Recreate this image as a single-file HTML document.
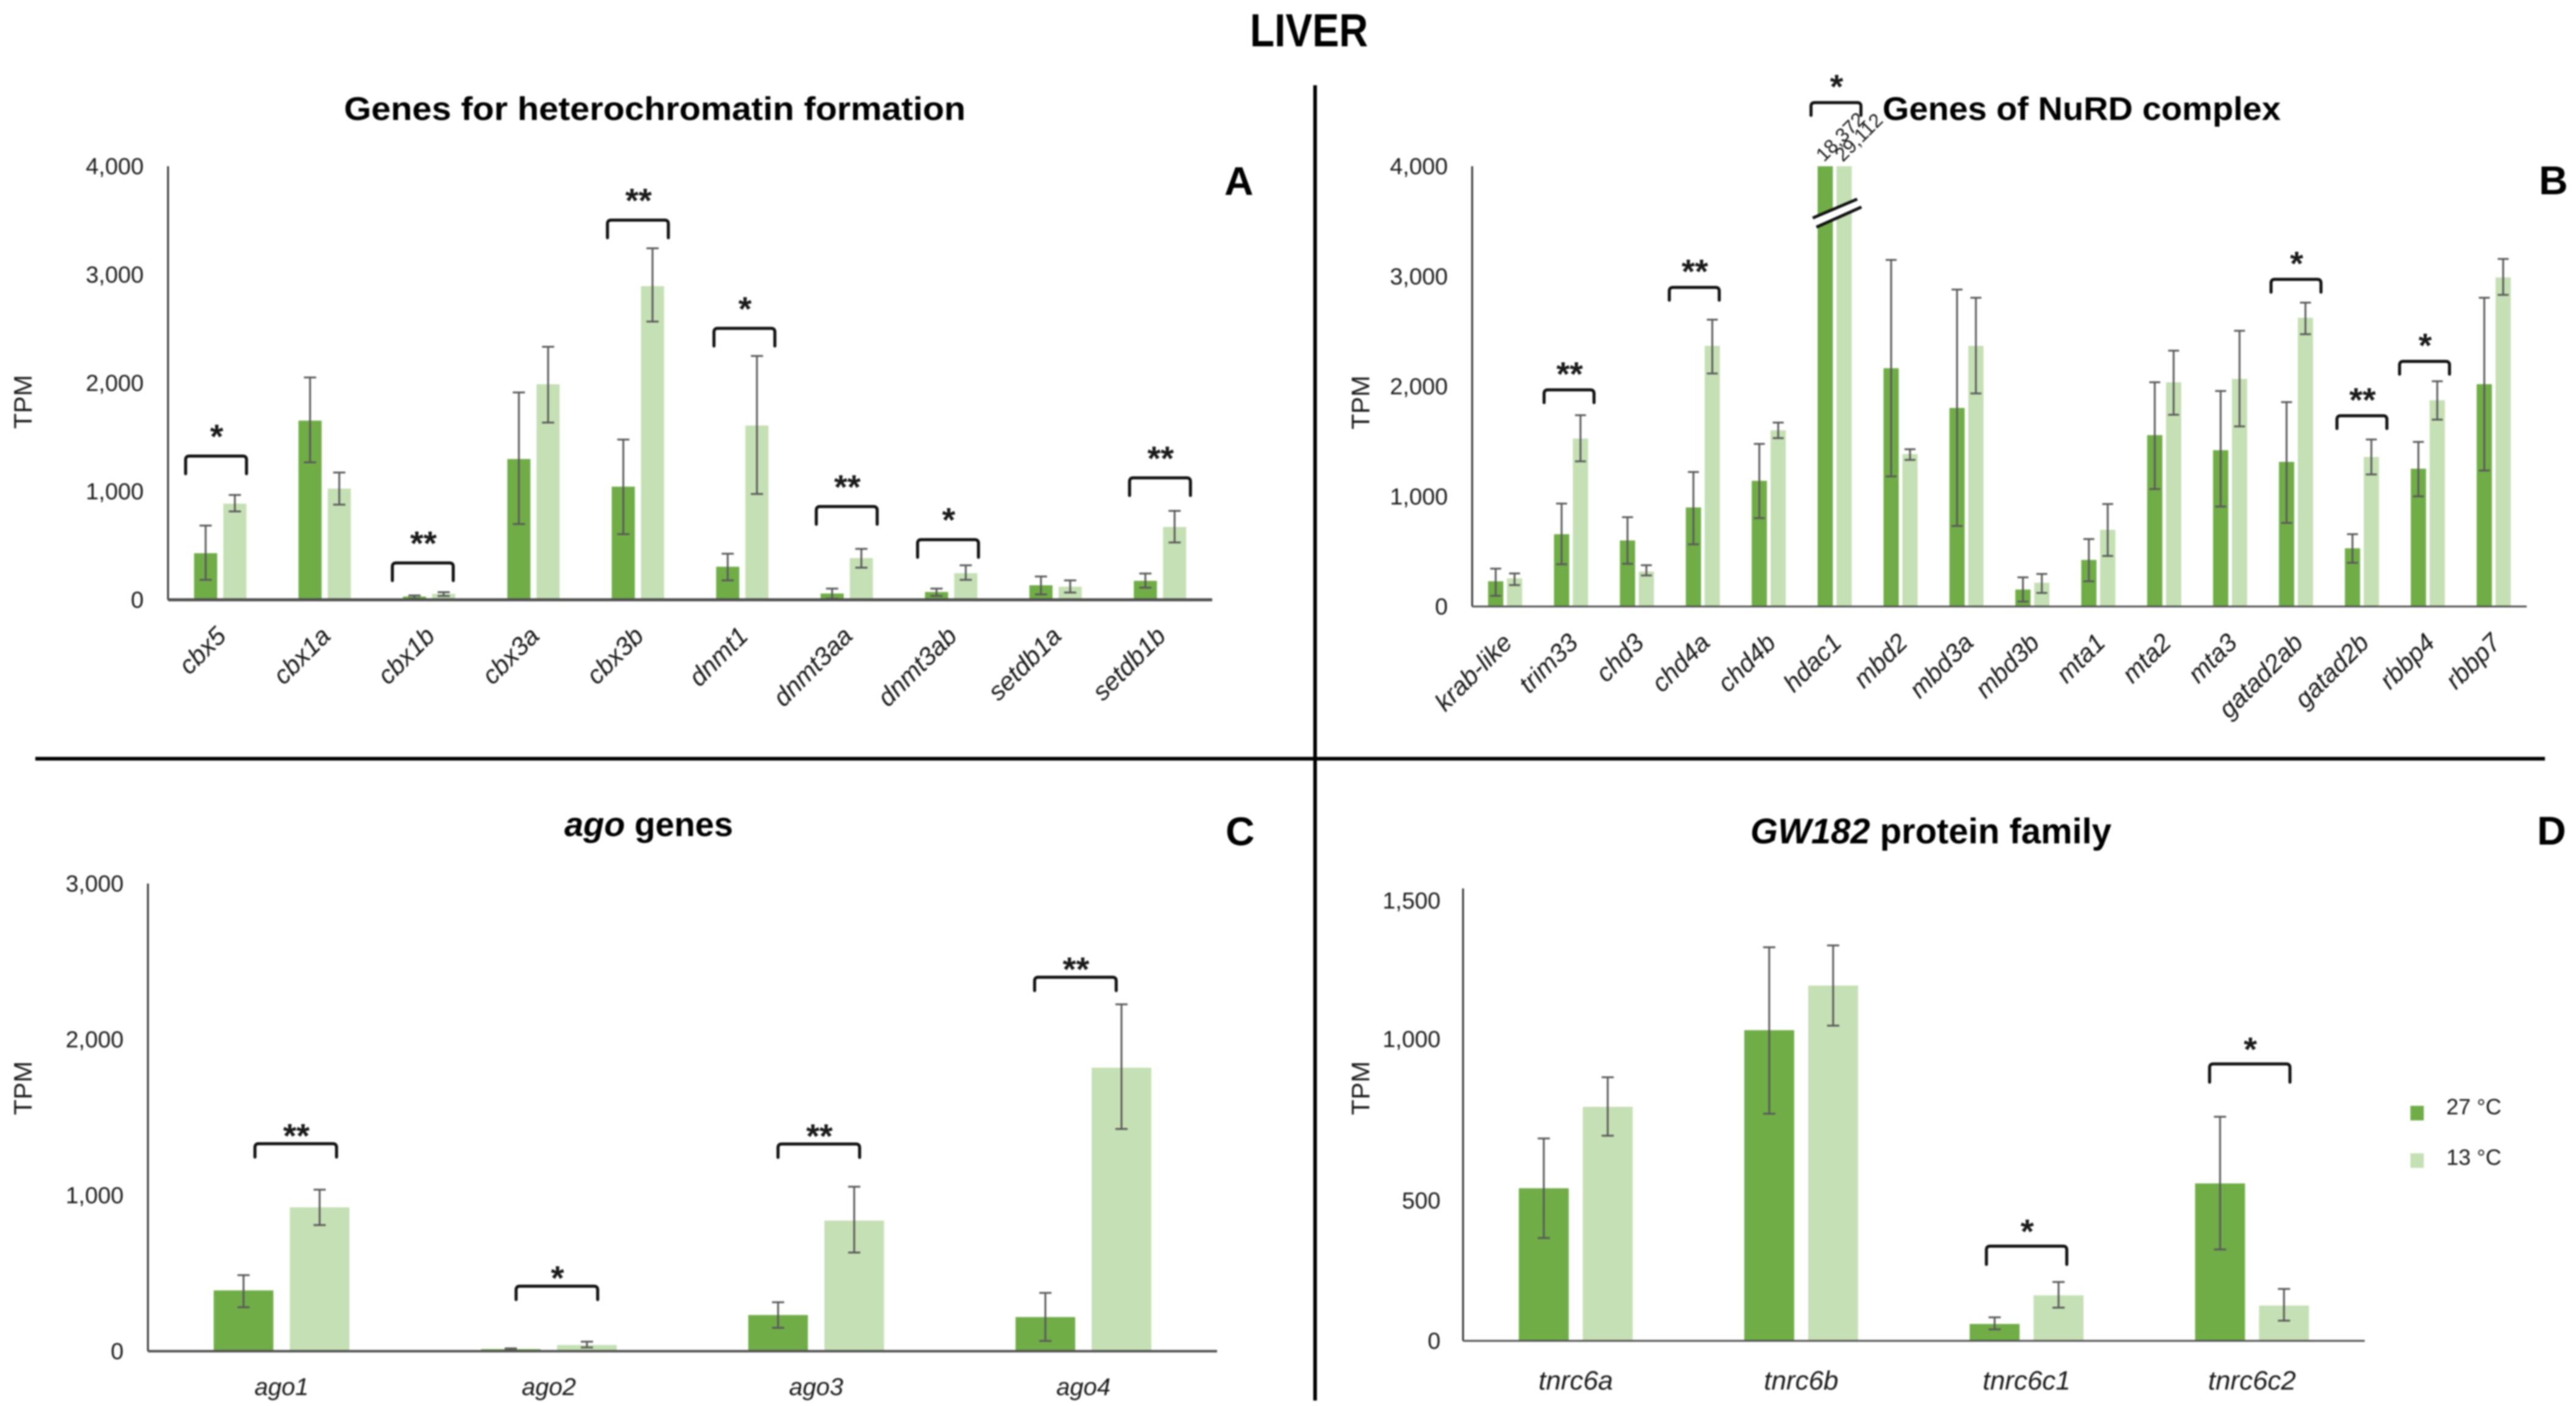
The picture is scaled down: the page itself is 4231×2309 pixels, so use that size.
<!DOCTYPE html>
<html lang="en">
<head>
<meta charset="utf-8">
<title>LIVER gene expression</title>
<style>
html,body{margin:0;padding:0;background:#fff;width:4231px;height:2309px;overflow:hidden}
svg{display:block;filter:blur(1.2px)}
text{font-family:"Liberation Sans",sans-serif;fill:#1a1a1a}
</style>
</head>
<body>
<svg id="chart" xmlns="http://www.w3.org/2000/svg" width="4231" height="2309" viewBox="0 0 4231 2309">
  <rect x="0" y="0" width="4231" height="2309" fill="#fff"/>
  <text x="2053" y="76" font-size="76" font-weight="700" fill="#000" textLength="194" lengthAdjust="spacingAndGlyphs" style="fill:#000">LIVER</text>
  <text x="565" y="197" font-size="54" font-weight="700" textLength="1021" lengthAdjust="spacingAndGlyphs" style="fill:#000">Genes for heterochromatin formation</text>
  <text x="3092" y="197" font-size="54" font-weight="700" textLength="654" lengthAdjust="spacingAndGlyphs" style="fill:#000">Genes of NuRD complex</text>
  <text x="927" y="1373" font-size="56" font-weight="700" style="fill:#000"><tspan font-style="italic">ago</tspan> genes</text>
  <text x="2875" y="1385" font-size="58" font-weight="700" style="fill:#000"><tspan font-style="italic">GW182</tspan> protein family</text>
  <text x="2011" y="320" font-size="66" font-weight="700" style="fill:#000">A</text>
  <text x="4170" y="319" font-size="66" font-weight="700" style="fill:#000">B</text>
  <text x="2013" y="1388" font-size="66" font-weight="700" style="fill:#000">C</text>
  <text x="4167" y="1387" font-size="66" font-weight="700" style="fill:#000">D</text>
  <line x1="2160" y1="140" x2="2160" y2="2300" stroke="#000" stroke-width="6"/>
  <line x1="58" y1="1246" x2="4180" y2="1246" stroke="#000" stroke-width="6"/>
  <g>
    <rect x="3959" y="1816" width="22" height="24" fill="#70AD47"/>
    <text x="4018" y="1830" font-size="36">27 °C</text>
    <rect x="3959" y="1894" width="22" height="24" fill="#C5E0B4"/>
    <text x="4018" y="1913" font-size="36">13 °C</text>
  </g>
</svg>
<script>
// Panel A
const aCategories = ['cbx5','cbx1a','cbx1b','cbx3a','cbx3b','dnmt1','dnmt3aa','dnmt3ab','setdb1a','setdb1b'];
const aWarm     = [430,1653,30,1299,1044,305,58,72,134,175];
const aWarmLow  = [184,1268,10,699,605,179,10,36,49,112];
const aWarmHigh = [685,2051,40,1913,1478,425,103,103,215,242];
const aCold     = [887,1026,55,1989,2894,1608,385,246,121,672];
const aColdLow  = [815,878,35,1635,2567,976,296,184,67,529];
const aColdHigh = [967,1174,70,2334,3243,2249,470,318,179,820];
const aTicks = [0,1000,2000,3000,4000];
const aBracketCats   = [-0.04,1.94,4,5.02,6,6.97,9];
const aBracketLevels = [1326,340,3503,2504,860,555,1125];
const aBracketStars  = ['*','**','**','*','**','*','**'];

// Panel B
const bCategories = ['krab-like','trim33','chd3','chd4a','chd4b','hdac1','mbd2','mbd3a','mbd3b','mta1','mta2','mta3','gatad2ab','gatad2b','rbbp4','rbbp7'];
const bWarm     = [229,657,600,900,1142,18372,2165,1804,154,423,1557,1420,1314,529,1252,2020];
const bWarmLow  = [97,384,388,565,803,null,1182,732,44,229,1067,908,759,397,1001,1235];
const bWarmHigh = [344,935,811,1222,1477,null,3149,2880,265,613,2037,1958,1857,657,1495,2805];
const bCold     = [256,1526,318,2368,1601,29112,1385,2368,216,697,2037,2068,2624,1358,1874,2990];
const bColdLow  = [194,1319,282,2117,1530,null,1332,1936,123,459,1742,1636,2474,1200,1698,2831];
const bColdHigh = [300,1738,375,2606,1671,null,1429,2805,295,931,2324,2505,2761,1517,2046,3158];
const bTicks = [0,1000,2000,3000,4000];
const bBracketCats   = [0.97,2.87,5.02,12,13,13.95];
const bBracketLevels = [1968,2899,4578,2972,1733,2227];
const bBracketStars  = ['**','**','*','*','**','*'];

// Panel C
const cCategories = ['ago1','ago2','ago3','ago4'];
const cWarm     = [390,13,232,219];
const cWarmLow  = [282,5,150,66];
const cWarmHigh = [488,18,314,374];
const cCold     = [923,40,838,1819];
const cColdLow  = [809,24,633,1426];
const cColdHigh = [1036,61,1055,2225];
const cTicks = [0,1000,2000,3000];
const cBracketCats   = [0.053,1.03,2.01,2.97];
const cBracketLevels = [1331,417,1329,2399];
const cBracketStars  = ['**','*','**','**'];

// Panel D
const dCategories = ['tnrc6a','tnrc6b','tnrc6c1','tnrc6c2'];
const dWarm     = [506,1030,56,522];
const dWarmLow  = [341,753,38,303];
const dWarmHigh = [671,1305,78,743];
const dCold     = [776,1178,151,117];
const dColdLow  = [680,1045,110,67];
const dColdHigh = [874,1311,195,172];
const dTicks = [0,500,1000,1500];
const dBracketCats   = [2,2.99];
const dBracketLevels = [314,918];
const dBracketStars  = ['*','*'];

const SVG_NS = 'http://www.w3.org/2000/svg';
const root = document.getElementById('chart');

function make(parent, tag, attrs, content) {
  const node = document.createElementNS(SVG_NS, tag);
  for (const key in attrs) node.setAttribute(key, attrs[key]);
  if (content !== undefined) node.textContent = content;
  parent.appendChild(node);
  return node;
}

function fmt(v) {
  return Number(v).toLocaleString('en-US');
}

function drawPanel(p) {
  const group = make(root, 'g', {});
  
  

  const maxV = p.ticks[p.ticks.length - 1];
  const yOf = function (v) { return p.base - (v / maxV) * (p.base - p.top); };
  const step = (p.x1 - p.x0) / p.categories.length;
  const xOf = function (i) { return p.x0 + step * (i + 0.5); };

  // y tick labels
  p.ticks.forEach(function (t) {
    const nudge = p.labelNudge && p.labelNudge[t] ? p.labelNudge[t] : 0;
    const label = make(group, 'text', {x: p.x0 - p.labelGap, y: yOf(t) + 13 + nudge, 'text-anchor': 'end', 'font-size': 38}, fmt(t));
    
    
  });

  // y axis title
  const title = make(group, 'text', {transform: 'translate(' + p.titleX + ',' + p.titleY + ') rotate(-90)', 'text-anchor': 'middle', 'font-size': 42}, 'TPM');
  
  

  // bars + error bars
  const series = [
    {key: 'warm', vals: p.warm, lows: p.warmLow, highs: p.warmHigh, color: '#70AD47', side: -0.5},
    {key: 'cold', vals: p.cold, lows: p.coldLow, highs: p.coldHigh, color: '#C5E0B4', side: 0.5}
  ];
  series.forEach(function (s) {
    s.vals.forEach(function (v, i) {
      const cx = xOf(i) + s.side * p.gap;
      const shown = Math.min(v, maxV);
      const bar = make(group, 'rect', {x: cx - p.barW / 2, y: yOf(shown), width: p.barW, height: p.base - yOf(shown), fill: s.color});
      
      
    });
  });
  series.forEach(function (s) {
    s.vals.forEach(function (v, i) {
      const cx = xOf(i) + s.side * p.gap;
      if (v > maxV) {
        const printed = make(group, 'text', {transform: 'translate(' + (cx - 2) + ',' + (p.top - 6) + ') rotate(-45)', 'font-size': 32}, fmt(v));
        
        
      }
      if (s.lows[i] === null) return;
      const yLow = yOf(s.lows[i]);
      const yHigh = yOf(s.highs[i]);
      const cap = p.cap;
      const err = make(group, 'path', {d: 'M' + cx + ' ' + yLow + 'V' + yHigh + 'M' + (cx - cap) + ' ' + yLow + 'H' + (cx + cap) + 'M' + (cx - cap) + ' ' + yHigh + 'H' + (cx + cap), fill: 'none', stroke: '#595959', 'stroke-width': 3});
      
      
    });
  });

  // axis break for bars exceeding the axis
  p.warm.forEach(function (v, i) {
    if (v <= maxV) return;
    const c = xOf(i);
    const brk = make(group, 'g', {});
    
    
    const by = p.top + 75;
    make(brk, 'polygon', {points: (c - 36) + ',' + (by + 10) + ' ' + (c + 37) + ',' + (by - 21) + ' ' + (c + 44) + ',' + (by - 8) + ' ' + (c - 30) + ',' + (by + 25), fill: '#fff'});
    make(brk, 'line', {x1: c - 36, y1: by + 10, x2: c + 37, y2: by - 21, stroke: '#111', 'stroke-width': 5});
    make(brk, 'line', {x1: c - 30, y1: by + 25, x2: c + 44, y2: by - 8, stroke: '#111', 'stroke-width': 5});
  });

  // axes
  const yAxis = make(group, 'line', {x1: p.x0, y1: p.top, x2: p.x0, y2: p.base, stroke: '#333', 'stroke-width': 3});
  
  
  const xAxis = make(group, 'line', {x1: p.x0, y1: p.base, x2: p.x1, y2: p.base, stroke: '#505050', 'stroke-width': p.axisW});
  
  

  // x labels
  p.categories.forEach(function (name, i) {
    let attrs;
    if (p.rotated) {
      attrs = {transform: 'translate(' + (xOf(i) + p.labelDx) + ',' + (p.base + p.labelDy) + ') rotate(-45)', 'text-anchor': 'end', 'font-size': p.labelSize, 'font-style': 'italic'};
    } else {
      attrs = {x: xOf(i), y: p.base + p.labelDy, 'text-anchor': 'middle', 'font-size': p.labelSize, 'font-style': 'italic'};
    }
    const label = make(group, 'text', attrs, name);
    
    
  });

  // significance brackets
  p.bracketCats.forEach(function (c, i) {
    const cx = p.x0 + step * (c + 0.5);
    const y = yOf(p.bracketLevels[i]);
    const hw = p.bracketW;
    const r = 6;
    const d = 'M' + (cx - hw) + ' ' + (y + p.bracketH) + 'V' + (y + r) + 'Q' + (cx - hw) + ' ' + y + ' ' + (cx - hw + r) + ' ' + y + 'H' + (cx + hw - r) + 'Q' + (cx + hw) + ' ' + y + ' ' + (cx + hw) + ' ' + (y + r) + 'V' + (y + p.bracketH);
    const bracket = make(group, 'path', {d: d, fill: 'none', stroke: '#111', 'stroke-width': 5, 'stroke-linecap': 'round'});
    
    
    const star = make(group, 'text', {x: cx + 1, y: y - p.starDy + 28, 'text-anchor': 'middle', 'font-size': 56, 'font-weight': 700}, p.bracketStars[i]);
    
    
  });
}

drawPanel({id: 'a', categories: aCategories, warm: aWarm, warmLow: aWarmLow, warmHigh: aWarmHigh, cold: aCold, coldLow: aColdLow, coldHigh: aColdHigh, ticks: aTicks,
  bracketCats: aBracketCats, bracketLevels: aBracketLevels, bracketStars: aBracketStars,
  x0: 276, x1: 1991, top: 273, base: 985, gap: 48, barW: 38, cap: 10, axisW: 5, labelGap: 40, titleX: 52, titleY: 660,
  rotated: true, labelDx: 12, labelDy: 62, labelSize: 42, bracketW: 50, bracketH: 29, starDy: 41});

drawPanel({id: 'b', categories: bCategories, warm: bWarm, warmLow: bWarmLow, warmHigh: bWarmHigh, cold: bCold, coldLow: bColdLow, coldHigh: bColdHigh, ticks: bTicks,
  bracketCats: bBracketCats, bracketLevels: bBracketLevels, bracketStars: bBracketStars,
  x0: 2418, x1: 4150, top: 273, base: 996, gap: 31, barW: 25, cap: 9, axisW: 3, labelGap: 40, titleX: 2249, titleY: 661,
  rotated: true, labelDx: 14, labelDy: 62, labelSize: 42, bracketW: 41, bracketH: 21, starDy: 35});

drawPanel({id: 'c', categories: cCategories, warm: cWarm, warmLow: cWarmLow, warmHigh: cWarmHigh, cold: cCold, coldLow: cColdLow, coldHigh: cColdHigh, ticks: cTicks,
  bracketCats: cBracketCats, bracketLevels: cBracketLevels, bracketStars: cBracketStars,
  x0: 243, x1: 1999, top: 1451, base: 2219, gap: 125, barW: 98, cap: 10, axisW: 4, labelGap: 40, titleX: 52, titleY: 1787,
  rotated: false, labelDx: 0, labelDy: 72, labelSize: 40, bracketW: 67, bracketH: 22, starDy: 22});

drawPanel({id: 'd', categories: dCategories, warm: dWarm, warmLow: dWarmLow, warmHigh: dWarmHigh, cold: dCold, coldLow: dColdLow, coldHigh: dColdHigh, ticks: dTicks,
  bracketCats: dBracketCats, bracketLevels: dBracketLevels, bracketStars: dBracketStars,
  x0: 2403, x1: 3884, top: 1459, base: 2202, gap: 105, barW: 82, cap: 10, axisW: 3, labelGap: 37, titleX: 2249, titleY: 1787, labelNudge: {500: 17, 1500: 20},
  rotated: false, labelDx: 0, labelDy: 80, labelSize: 44, bracketW: 66, bracketH: 30, starDy: 33});
</script>
</body>
</html>
